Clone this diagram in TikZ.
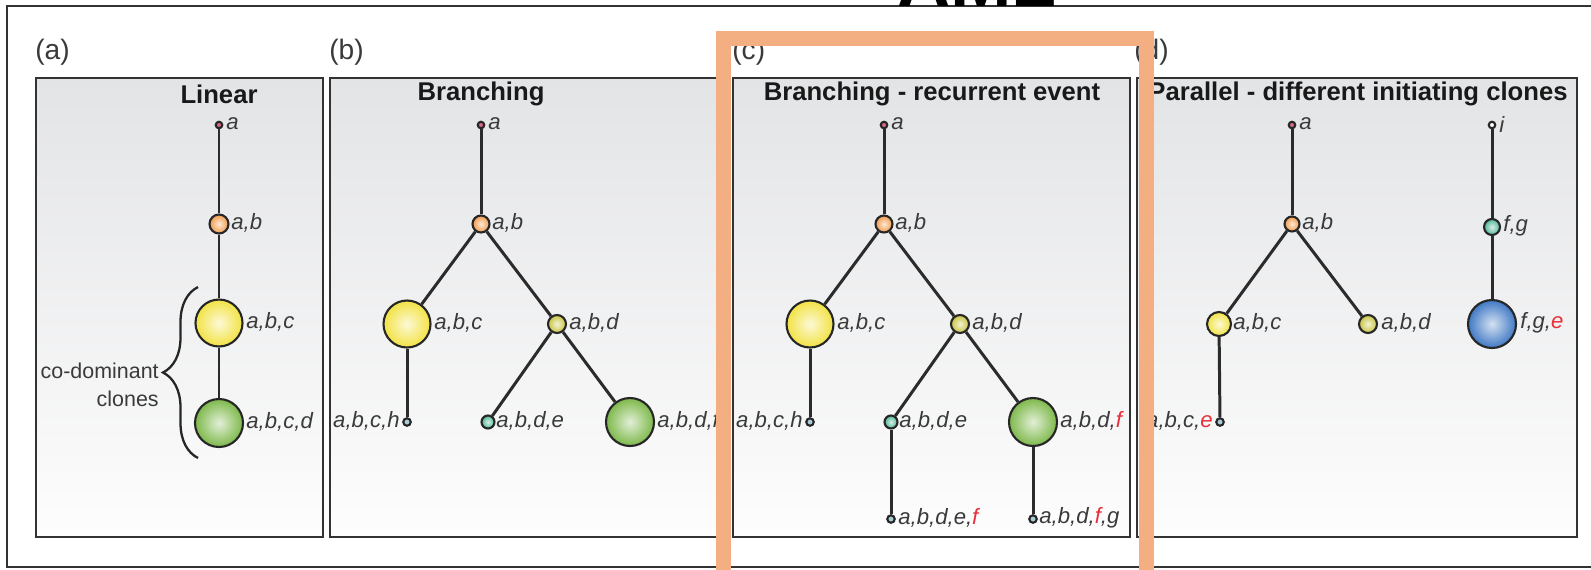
\documentclass[tikz,border=0pt]{standalone}
\usepackage{fontspec}
\setmainfont{Liberation Sans}
\usetikzlibrary{decorations.pathreplacing,calc}
\definecolor{frame}{HTML}{333333}
\definecolor{pgtop}{HTML}{E3E4E6}
\definecolor{pgbot}{HTML}{FDFDFD}
\definecolor{edgec}{HTML}{2B2B2B}
\definecolor{txt}{HTML}{3A3A3A}
\definecolor{redc}{HTML}{E8303A}
\definecolor{band}{HTML}{F3AE82}
\definecolor{rootc}{HTML}{D86A86}
\definecolor{orgc}{HTML}{F29A4A}
\definecolor{yelc}{HTML}{F2E244}
\definecolor{grnc}{HTML}{7DB84A}
\definecolor{olvc}{HTML}{C8C440}
\definecolor{tealc}{HTML}{4FB595}
\definecolor{bluc}{HTML}{3F78C4}
\definecolor{leafc}{HTML}{A8CCD8}
\tikzset{
  lbl/.style={font=\fontsize{12.6}{15}\selectfont\itshape, text=txt, inner sep=0pt},
  ttl/.style={font=\fontsize{14.6}{17}\selectfont\bfseries, text=black!90, inner sep=0pt},
  plab/.style={font=\fontsize{16}{19}\selectfont, text=txt, inner sep=0pt, anchor=west},
  panel/.style={draw=frame, line width=1.6pt, top color=pgtop, bottom color=pgbot},
  edge/.style={draw=edgec, line width=1.7pt},
  clone/.style 2 args={circle, draw=black!85, line width=1.2pt, inner sep=0pt,
     minimum size=#2, inner color=#1!22!white, outer color=#1},
  dot/.style={circle, draw=black!85, line width=1.2pt, inner sep=0pt, minimum size=0.15cm, fill=#1},
}
\newcommand{\rd}[1]{\textcolor{redc}{#1}}
\begin{document}
\begin{tikzpicture}[x=0.02cm,y=-0.02cm]
\useasboundingbox (0,0) rectangle (1591,569);
\fill[white] (0,0) rectangle (1591,569);
% outer frame
\draw[draw=frame, line width=1.3pt] (7,6) rectangle (1620,567);
\node[font=\fontsize{42}{42}\selectfont\bfseries, anchor=base, inner sep=0pt] (aml) at (977,6) {AML};
% panels
\path[panel] (36,78) rectangle (323,537);
\path[panel] (330,78) rectangle (726,537);
\path[panel] (733,78) rectangle (1130,537);
\path[panel] (1137,78) rectangle (1577,537);
\node[plab] (pa) at (35,52) {(a)};
\node[plab] (pb) at (329,52) {(b)};
\node[plab] (pc) at (732,52) {(c)};
\node[plab] (pd) at (1134,52) {(d)};
\node[ttl] (ta) at (219,94) {Linear};
\node[ttl] (tb) at (481,94) {Branching};
\node[ttl] (tc) at (932,94) {Branching - recurrent event};
\node[ttl] (td) at (1358,94) {Parallel - different initiating clones};

% ---- panel a
\node[dot=rootc, minimum size=0.13cm] (a1) at (219,125) {};
\node[clone={orgc}{0.38cm}] (ab1) at (219,224) {};
\node[clone={yelc}{0.94cm}] (abc1) at (219,323) {};
\node[clone={grnc}{0.96cm}] (abcd1) at (219,423) {};
\draw[edge] (a1) -- (ab1);
\draw[edge] (ab1) -- (abc1);
\draw[edge] (abc1) -- (abcd1);
\node[lbl, anchor=west] (la1) at (226,124) {a};
\node[lbl, anchor=west] (lab1) at (231,223) {a,b};
\node[lbl, anchor=west] (labc1) at (246,322) {a,b,c};
\node[lbl, anchor=west] (labcd1) at (246,422) {a,b,c,d};
\draw[line width=1.3pt, black!85, decorate, decoration={brace, amplitude=0.7cm, aspect=0.5}] (198,458) -- (198,287);
\node[font=\fontsize{12.2}{15}\selectfont, text=txt, inner sep=0pt, anchor=east] (cod) at (159,371) {co-dominant};
\node[font=\fontsize{12.2}{15}\selectfont, text=txt, inner sep=0pt, anchor=east] (clo) at (159,399) {clones};

% ---- panel b
\node[dot=rootc, minimum size=0.13cm] (a2) at (481,125) {};
\node[clone={orgc}{0.34cm}] (ab2) at (481,224) {};
\node[clone={yelc}{0.94cm}] (abc2) at (407,324) {};
\node[clone={olvc}{0.36cm}] (abd2) at (557,324) {};
\node[dot=leafc] (abch2) at (407,422) {};
\node[clone={tealc}{0.26cm}] (abde2) at (488,422) {};
\node[clone={grnc}{0.96cm}] (abdf2) at (630,422) {};
\draw[edge] (a2) -- (ab2);
\draw[edge] (ab2) -- (abc2);
\draw[edge] (ab2) -- (abd2);
\draw[edge] (abc2) -- (abch2);
\draw[edge] (abd2) -- (abde2);
\draw[edge] (abd2) -- (abdf2);
\node[lbl, anchor=west] (la2) at (488,124) {a};
\node[lbl, anchor=west] (lab2) at (492,223) {a,b};
\node[lbl, anchor=west] (labc2) at (434,323) {a,b,c};
\node[lbl, anchor=west] (labd2) at (569,323) {a,b,d};
\node[lbl, anchor=east] (labch2) at (400,421) {a,b,c,h};
\node[lbl, anchor=west] (labde2) at (496,421) {a,b,d,e};
\node[lbl, anchor=west] (labdf2) at (657,421) {a,b,d,f};

% ---- panel c
\node[dot=rootc, minimum size=0.13cm] (a3) at (884,125) {};
\node[clone={orgc}{0.34cm}] (ab3) at (884,224) {};
\node[clone={yelc}{0.94cm}] (abc3) at (810,324) {};
\node[clone={olvc}{0.36cm}] (abd3) at (960,324) {};
\node[dot=leafc] (abch3) at (810,422) {};
\node[clone={tealc}{0.26cm}] (abde3) at (891,422) {};
\node[clone={grnc}{0.96cm}] (abdf3) at (1033,422) {};
\node[dot=leafc] (abdef3) at (891,519) {};
\node[dot=leafc] (abdfg3) at (1033,519) {};
\draw[edge] (a3) -- (ab3);
\draw[edge] (ab3) -- (abc3);
\draw[edge] (ab3) -- (abd3);
\draw[edge] (abc3) -- (abch3);
\draw[edge] (abd3) -- (abde3);
\draw[edge] (abd3) -- (abdf3);
\draw[edge] (abde3) -- (abdef3);
\draw[edge] (abdf3) -- (abdfg3);
\node[lbl, anchor=west] (la3) at (891,124) {a};
\node[lbl, anchor=west] (lab3) at (895,223) {a,b};
\node[lbl, anchor=west] (labc3) at (837,323) {a,b,c};
\node[lbl, anchor=west] (labd3) at (972,323) {a,b,d};
\node[lbl, anchor=east] (labch3) at (803,421) {a,b,c,h};
\node[lbl, anchor=west] (labde3) at (899,421) {a,b,d,e};
\node[lbl, anchor=west] (labdf3) at (1060,421) {a,b,d,\rd{f}};
\node[lbl, anchor=west] (labdef3) at (898,518) {a,b,d,e,\rd{f}};
\node[lbl, anchor=west] (labdfg3) at (1039,518) {a,b,d,\rd{f},g};

% ---- panel d
\node[dot=rootc, minimum size=0.13cm] (a4) at (1292,125) {};
\node[clone={orgc}{0.3cm}] (ab4) at (1292,224) {};
\node[clone={yelc}{0.48cm}] (abc4) at (1219,324) {};
\node[clone={olvc}{0.36cm}] (abd4) at (1368,324) {};
\node[dot=leafc] (abce4) at (1220,422) {};
\node[dot=white, minimum size=0.13cm] (i4) at (1492,125) {};
\node[clone={tealc}{0.32cm}] (fg4) at (1492,227) {};
\node[clone={bluc}{0.96cm}] (fge4) at (1492,324) {};
\draw[edge] (a4) -- (ab4);
\draw[edge] (ab4) -- (abc4);
\draw[edge] (ab4) -- (abd4);
\draw[edge] (abc4) -- (abce4);
\draw[edge] (i4) -- (fg4);
\draw[edge] (fg4) -- (fge4);
\node[lbl, anchor=west] (la4) at (1299,124) {a};
\node[lbl, anchor=west] (lab4) at (1302,223) {a,b};
\node[lbl, anchor=west] (labc4) at (1233,323) {a,b,c};
\node[lbl, anchor=west] (labd4) at (1381,323) {a,b,d};
\node[lbl, anchor=east] (labce4) at (1213,421) {a,b,c,\rd{e}};
\node[lbl, anchor=west] (li4) at (1499,124) {i};
\node[lbl, anchor=west] (lfg4) at (1503,226) {f,g};
\node[lbl, anchor=west] (lfge4) at (1520,323) {f,g,\rd{e}};

% orange highlight
\draw[draw=band, line width=0.3cm] (723.5,38) rectangle (1146.5,620);
\end{tikzpicture}
\end{document}
